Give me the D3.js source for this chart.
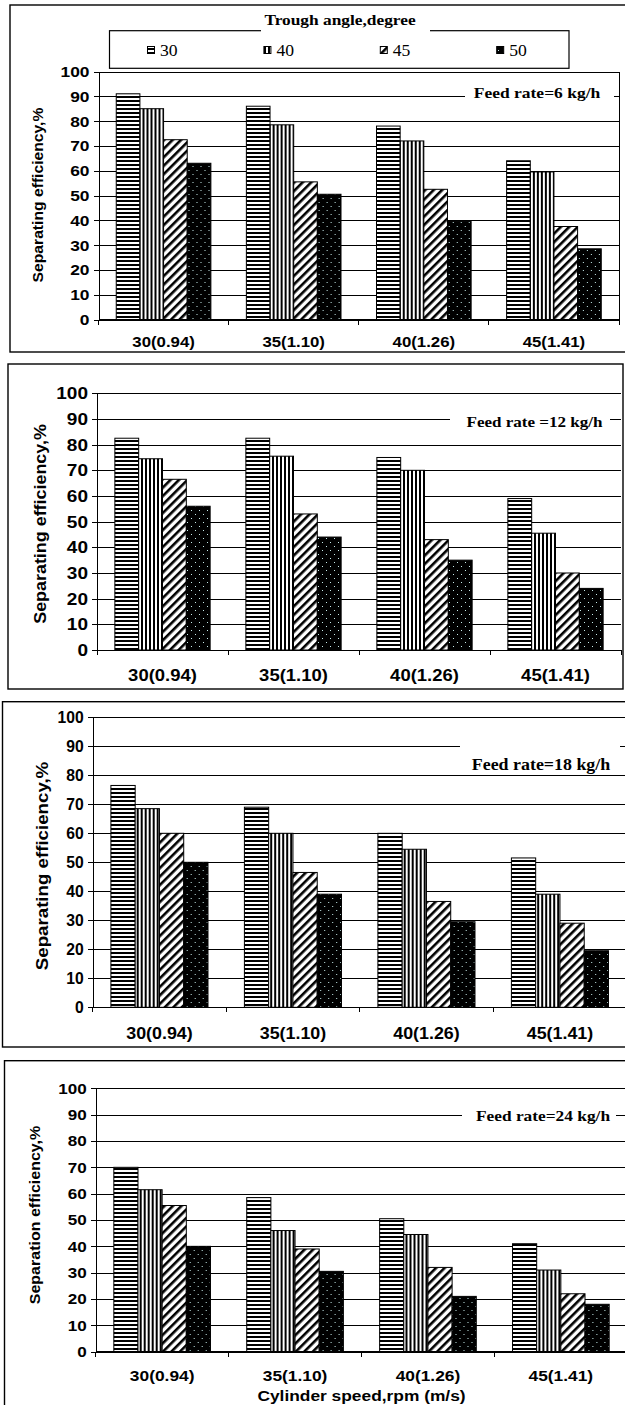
<!DOCTYPE html>
<html>
<head>
<meta charset="utf-8">
<script src="https://cdn.jsdelivr.net/npm/d3@7"></script>
<style>
  body { margin: 0; background: #fff; }
  svg { display: block; }
</style>
</head>
<body>
<svg id="chart" width="625" height="1405"></svg>
<script>
// ---- data ----
const categories = ["30(0.94)", "35(1.10)", "40(1.26)", "45(1.41)"];
const troughAngles = ["30", "40", "45", "50"];
const yTicks = [0, 10, 20, 30, 40, 50, 60, 70, 80, 90, 100];

// separating efficiency (%), one row per cylinder speed, columns = trough angle 30/40/45/50
const feed6  = [[91, 85, 72.5, 63], [86, 78.5, 55.5, 50.5], [78, 72, 52.5, 39.5], [64, 59.5, 37.5, 28.5]];
const feed12 = [[82.5, 74.5, 66.5, 56], [82.5, 75.5, 53, 44], [75, 70, 43, 35], [59, 45.5, 30, 24]];
const feed18 = [[76.5, 68.5, 60, 50], [69, 60, 46.5, 39], [60, 54.5, 36.5, 29.5], [51.5, 39, 29, 19.5]];
const feed24 = [[70, 61.5, 55.5, 40], [58.5, 46, 39, 30.5], [50.5, 44.5, 32, 21], [41, 31, 22, 18]];

const feedLabels = ["Feed rate=6 kg/h", "Feed rate =12 kg/h", "Feed rate=18 kg/h", "Feed rate=24 kg/h"];
const yTitles = ["Separating efficiency,%", "Separating efficiency,%", "Separating efficiency,%", "Separation efficiency,%"];
const xTitle = "Cylinder speed,rpm (m/s)";
const legendTitle = "Trough angle,degree";

const SANS = "'Liberation Sans', Arial, sans-serif";
const SERIF = "'Liberation Serif', 'Times New Roman', serif";

const svg = d3.select("#chart");
const defs = svg.append("defs");

// ---- fill patterns for the four trough angles ----
function makePattern(id, w, h, build, transform) {
  const p = defs.append("pattern").attr("id", id)
    .attr("patternUnits", "userSpaceOnUse").attr("width", w).attr("height", h);
  if (transform) p.attr("patternTransform", transform);
  build(p);
}
makePattern("p30", 4, 4, p => {
  p.append("rect").attr("width", 4).attr("height", 4).attr("fill", "#fff");
  p.append("rect").attr("width", 4).attr("height", 2).attr("fill", "#000");
});
makePattern("p40", 4, 4, p => {
  p.append("rect").attr("width", 4).attr("height", 4).attr("fill", "#fff");
  p.append("rect").attr("width", 2).attr("height", 4).attr("fill", "#000");
});
makePattern("p45", 6, 6, p => {
  p.append("rect").attr("width", 6).attr("height", 6).attr("fill", "#fff");
  p.append("rect").attr("width", 2.6).attr("height", 6).attr("fill", "#000");
}, "rotate(45)");
makePattern("p50", 8, 8, p => {
  p.append("rect").attr("width", 8).attr("height", 8).attr("fill", "#000");
  p.append("rect").attr("x", 2).attr("y", 2).attr("width", 1).attr("height", 1).attr("fill", "#c8ecec");
  p.append("rect").attr("x", 6).attr("y", 6).attr("width", 1).attr("height", 1).attr("fill", "#c8ecec");
});

// text helper: horizontal stretch applied along the text direction
function label(g, x, y, str, o) {
  return g.append("text")
    .attr("transform", `translate(${x},${y}) rotate(${o.rotate || 0}) scale(${o.sx || 1},1)`)
    .attr("text-anchor", o.anchor || "middle")
    .attr("dy", "0.35em")
    .attr("font-family", o.family || SANS)
    .attr("font-weight", o.weight || "bold")
    .attr("font-size", o.size)
    .attr("fill", "#000")
    .text(str);
}

// ---- panel layout ----
const panels = [
  { data: feed6, feed: feedLabels[0], yTitle: yTitles[0],
    box: { x: 10, y: 5, w: 640, h: 347 },
    plot: { x0: 98.5, x1: 619, top: 71.5, bottom: 319.5 },
    tick: { size: 15.5, sx: 1.12 }, cat: { y: 341.5, size: 15, sx: 1.12 },
    title: { x: 38, y: 195, size: 14, sx: 1.12 },
    feedText: { x: 537, y: 93, size: 15.5, sx: 1.13 },
    feedGap: { x: 465, y: 86, w: 149, h: 18 }, frame: true },
  { data: feed12, feed: feedLabels[1], yTitle: yTitles[1],
    box: { x: 8, y: 364, w: 615, h: 325 },
    plot: { x0: 97, x1: 621, top: 393.3, bottom: 650 },
    tick: { size: 17, sx: 1.12 }, cat: { y: 675, size: 16.5, sx: 1.12 },
    title: { x: 40, y: 524, size: 16, sx: 1.12 },
    feedText: { x: 534.5, y: 421.7, size: 15.5, sx: 1.1 },
    feedGap: { x: 450, y: 411, w: 160, h: 20 }, frame: false },
  { data: feed18, feed: feedLabels[2], yTitle: yTitles[2],
    box: { x: 2.5, y: 701.7, w: 640, h: 345.3 },
    plot: { x0: 92.7, x1: 626.7, top: 717.3, bottom: 1007.3 },
    tick: { size: 16, sx: 0.98 }, cat: { y: 1033, size: 17, sx: 1.05 },
    title: { x: 42, y: 866, size: 17, sx: 1.1 },
    feedText: { x: 541, y: 764, size: 16, sx: 1.12 },
    feedGap: { x: 460, y: 743, w: 160, h: 30 }, frame: false },
  { data: feed24, feed: feedLabels[3], yTitle: yTitles[3],
    box: { x: 4.5, y: 1060.7, w: 640, h: 360 },
    plot: { x0: 95.7, x1: 627.3, top: 1088.3, bottom: 1351.7 },
    tick: { size: 15.5, sx: 1.1 }, cat: { y: 1376, size: 15.5, sx: 1.12 },
    title: { x: 35, y: 1215, size: 14.3, sx: 1.12 },
    feedText: { x: 543, y: 1116, size: 15.5, sx: 1.12 },
    feedGap: { x: 462, y: 1106, w: 154, h: 20 }, frame: false, xTitle: true }
];

panels.forEach(p => {
  const g = svg.append("g");

  // outer frame
  g.append("rect")
    .attr("x", p.box.x).attr("y", p.box.y).attr("width", p.box.w).attr("height", p.box.h)
    .attr("fill", "none").attr("stroke", "#000").attr("stroke-width", 1.4);

  const x = d3.scaleBand().domain(categories).range([p.plot.x0, p.plot.x1]);
  const xs = d3.scaleBand().domain(troughAngles).range([0, x.bandwidth()])
    .paddingInner(0).paddingOuter(0.75);
  const y = d3.scaleLinear().domain([0, 100]).range([p.plot.bottom, p.plot.top]);
  const plotW = p.plot.x1 - p.plot.x0;

  // horizontal gridlines
  g.append("g")
    .attr("transform", `translate(${p.plot.x0},0)`)
    .call(d3.axisLeft(y).tickValues(yTicks).tickSize(-plotW).tickFormat(""))
    .call(s => s.select(".domain").remove())
    .call(s => s.selectAll("line").attr("stroke", "#000").attr("shape-rendering", "crispEdges"));

  // feed-rate caption with its white backing
  g.append("rect")
    .attr("x", p.feedGap.x).attr("y", p.feedGap.y)
    .attr("width", p.feedGap.w).attr("height", p.feedGap.h).attr("fill", "#fff");
  label(g, p.feedText.x, p.feedText.y, p.feed,
    { size: p.feedText.size, sx: p.feedText.sx, family: SERIF });

  // grouped bars
  const groups = g.selectAll("g.cat").data(p.data).join("g")
    .attr("class", "cat")
    .attr("transform", (d, i) => `translate(${x(categories[i])},0)`);
  groups.selectAll("rect")
    .data(d => d.map((v, j) => ({ v, a: troughAngles[j] })))
    .join("rect")
    .attr("x", d => xs(d.a))
    .attr("width", xs.bandwidth())
    .attr("y", d => y(d.v))
    .attr("height", d => y(0) - y(d.v))
    .attr("fill", d => `url(#p${d.a})`)
    .attr("stroke", "#000").attr("stroke-width", 1);

  // plot-area right edge
  if (p.frame) {
    g.append("line")
      .attr("x1", p.plot.x1).attr("x2", p.plot.x1)
      .attr("y1", p.plot.top).attr("y2", p.plot.bottom)
      .attr("stroke", "#000").attr("shape-rendering", "crispEdges");
  }

  // y axis
  const ya = g.append("g")
    .attr("transform", `translate(${p.plot.x0},0)`)
    .call(d3.axisLeft(y).tickValues(yTicks).tickSize(5).tickSizeOuter(0));
  ya.selectAll("line, path").attr("stroke", "#000").attr("shape-rendering", "crispEdges");
  ya.selectAll("text")
    .attr("x", null)
    .attr("transform", `translate(-9,0) scale(${p.tick.sx},1)`)
    .attr("font-family", SANS).attr("font-weight", "bold")
    .attr("font-size", p.tick.size).attr("fill", "#000");

  // x axis line with boundary ticks
  g.append("line")
    .attr("x1", p.plot.x0).attr("x2", p.plot.x1)
    .attr("y1", y(0)).attr("y2", y(0))
    .attr("stroke", "#000").attr("shape-rendering", "crispEdges");
  const bounds = categories.map(c => x(c)).concat([x.range()[1]]);
  g.selectAll("line.xtick").data(bounds).join("line")
    .attr("class", "xtick")
    .attr("x1", d => d).attr("x2", d => d)
    .attr("y1", y(0)).attr("y2", y(0) + 5)
    .attr("stroke", "#000").attr("shape-rendering", "crispEdges");

  categories.forEach(c => {
    label(g, x(c) + x.bandwidth() / 2, p.cat.y, c, { size: p.cat.size, sx: p.cat.sx });
  });

  // y axis title
  label(g, p.title.x, p.title.y, p.yTitle,
    { size: p.title.size, sx: p.title.sx, rotate: -90 });

  if (p.xTitle) {
    label(g, (p.plot.x0 + 4 * x.step() + p.plot.x0) / 2, 1396, xTitle, { size: 15.5, sx: 1.12 });
  }
});

// ---- legend (top panel) ----
const lg = svg.append("g");
lg.append("rect")
  .attr("x", 109.5).attr("y", 30.7).attr("width", 459.5).attr("height", 37.6)
  .attr("fill", "#fff").attr("stroke", "#000").attr("stroke-width", 1.2);
lg.append("rect").attr("x", 261).attr("y", 8).attr("width", 169).attr("height", 26).attr("fill", "#fff");
label(lg, 340, 20, legendTitle, { size: 15.5, sx: 1.12, family: SERIF });

const legendX = d3.scaleBand().domain(troughAngles).range([147.5, 147.5 + 4 * 116.4]);
troughAngles.forEach(a => {
  lg.append("rect")
    .attr("x", legendX(a)).attr("y", 46.5).attr("width", 7).attr("height", 7)
    .attr("fill", `url(#p${a})`).attr("stroke", "#000").attr("stroke-width", 1);
  label(lg, legendX(a) + 12.5, 50, a, { size: 16, sx: 1.1, family: SERIF, weight: "normal", anchor: "start" });
});
</script>
</body>
</html>
